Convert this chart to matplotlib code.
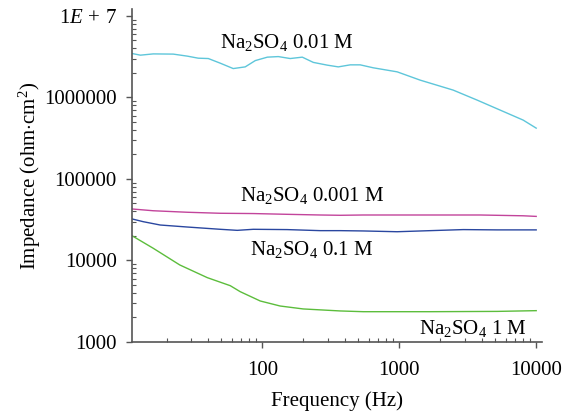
import matplotlib
matplotlib.use("Agg")
import matplotlib.pyplot as plt
from matplotlib.ticker import LogLocator, NullFormatter

plt.rcParams['font.family'] = ['Liberation Serif', 'DejaVu Serif']
plt.rcParams['mathtext.fontset'] = 'custom'
plt.rcParams['mathtext.rm'] = 'Liberation Serif'
plt.rcParams['mathtext.it'] = 'Liberation Serif:italic'

# -----------------------------
# Data
# -----------------------------
freq_001 = [11.2, 12.9, 16, 22.4, 28.4, 34.1, 40.4, 49.4, 61.4, 75.1, 88.9, 109, 131,
            160, 196, 236, 298, 359, 439, 519, 646, 966, 1422, 2477, 3707, 5458, 8035, 10000]
z_001 = [3.46e6, 3.30e6, 3.42e6, 3.40e6, 3.21e6, 3.03e6, 3.0e6, 2.63e6, 2.26e6, 2.37e6,
         2.83e6, 3.12e6, 3.17e6, 3.0e6, 3.12e6, 2.69e6, 2.49e6, 2.37e6, 2.51e6, 2.51e6,
         2.31e6, 2.06e6, 1.63e6, 1.23e6, 9.27e5, 6.99e5, 5.27e5, 4.2e5]

freq_0001 = [11.2, 16, 28.4, 49.4, 86, 152, 265, 371, 546, 1685, 3900, 8035, 10000]
z_0001 = [42.8e3, 40.7e3, 39.0e3, 37.9e3, 37.6e3, 36.8e3, 36.1e3, 35.8e3, 36.1e3,
          36.1e3, 36.1e3, 35.3e3, 34.7e3]

freq_01 = [11.2, 13.5, 18, 28.4, 49.4, 65.7, 86, 152, 265, 371, 546, 966, 1685, 2938, 5195, 10000]
z_01 = [32.3e3, 29.9e3, 27.2e3, 25.7e3, 24.1e3, 23.4e3, 24.1e3, 23.9e3, 23.2e3, 23.2e3,
        23.0e3, 22.5e3, 23.2e3, 23.9e3, 23.7e3, 23.7e3]

freq_1 = [11.2, 16, 25, 39.7, 58.4, 69, 96.7, 135, 199, 371, 546, 1685, 5195, 10000]
z_1 = [20.1e3, 14.1e3, 8.8e3, 6.15e3, 4.9e3, 4.14e3, 3.18e3, 2.76e3, 2.54e3, 2.40e3,
       2.35e3, 2.35e3, 2.37e3, 2.42e3]

ytick_vals = [1e3, 1e4, 1e5, 1e6, 1e7]
ytick_labels = ['1000', '10000', '100000', '1000000', r'$1E\,+\,7$']
xtick_vals = [100, 1000, 10000]
xtick_labels = ['100', '1000', '10000']

# -----------------------------
# Plot
# -----------------------------
fig = plt.figure(figsize=(5.74, 4.17), dpi=100)
ax = fig.add_axes([0.23, 0.18, 0.714, 0.798])

ax.plot(freq_001, z_001, color='#5ec6da', lw=1.0)
ax.plot(freq_0001, z_0001, color='#c2449b', lw=1.0)
ax.plot(freq_01, z_01, color='#2a47a0', lw=1.0)
ax.plot(freq_1, z_1, color='#5cbd3c', lw=1.0)

ax.set_xscale('log')
ax.set_yscale('log')
ax.set_xlim(11.2, 11000)
ax.set_ylim(1000, 1.21e7)

ax.set_xticks(xtick_vals, xtick_labels)
ax.set_yticks(ytick_vals, ytick_labels)
ax.xaxis.set_minor_locator(LogLocator(base=10, subs=range(2, 10)))
ax.yaxis.set_minor_locator(LogLocator(base=10, subs=range(2, 10)))
ax.xaxis.set_minor_formatter(NullFormatter())
ax.yaxis.set_minor_formatter(NullFormatter())

ax.tick_params(which='major', direction='out', length=4, width=1, colors='#555555',
               labelcolor='black', labelsize=15, pad=7)
ax.tick_params(axis='x', which='major', pad=10)
ax.tick_params(which='minor', direction='in', length=3, width=0.8, colors='#555555')

for side in ['top', 'right']:
    ax.spines[side].set_visible(False)
for side in ['left', 'bottom']:
    ax.spines[side].set_color('#555555')
    ax.spines[side].set_linewidth(1.2)

ax.set_xlabel('Frequency (Hz)', fontsize=15, labelpad=8)
ax.set_ylabel(r'Impedance (ohm$\cdot$cm$^2$)', fontsize=15, labelpad=1)

ax.text(49.3, 4.77e6, r'Na$_2$SO$_4$ 0.01 M', fontsize=15, ha='left', va='center')
ax.text(69, 63.5e3, r'Na$_2$SO$_4$ 0.001 M', fontsize=15, ha='left', va='center')
ax.text(81.6, 13.5e3, r'Na$_2$SO$_4$ 0.1 M', fontsize=15, ha='left', va='center')
ax.text(1384, 1445, r'Na$_2$SO$_4$ 1 M', fontsize=15, ha='left', va='center')

fig.savefig('out.png', dpi=100)
